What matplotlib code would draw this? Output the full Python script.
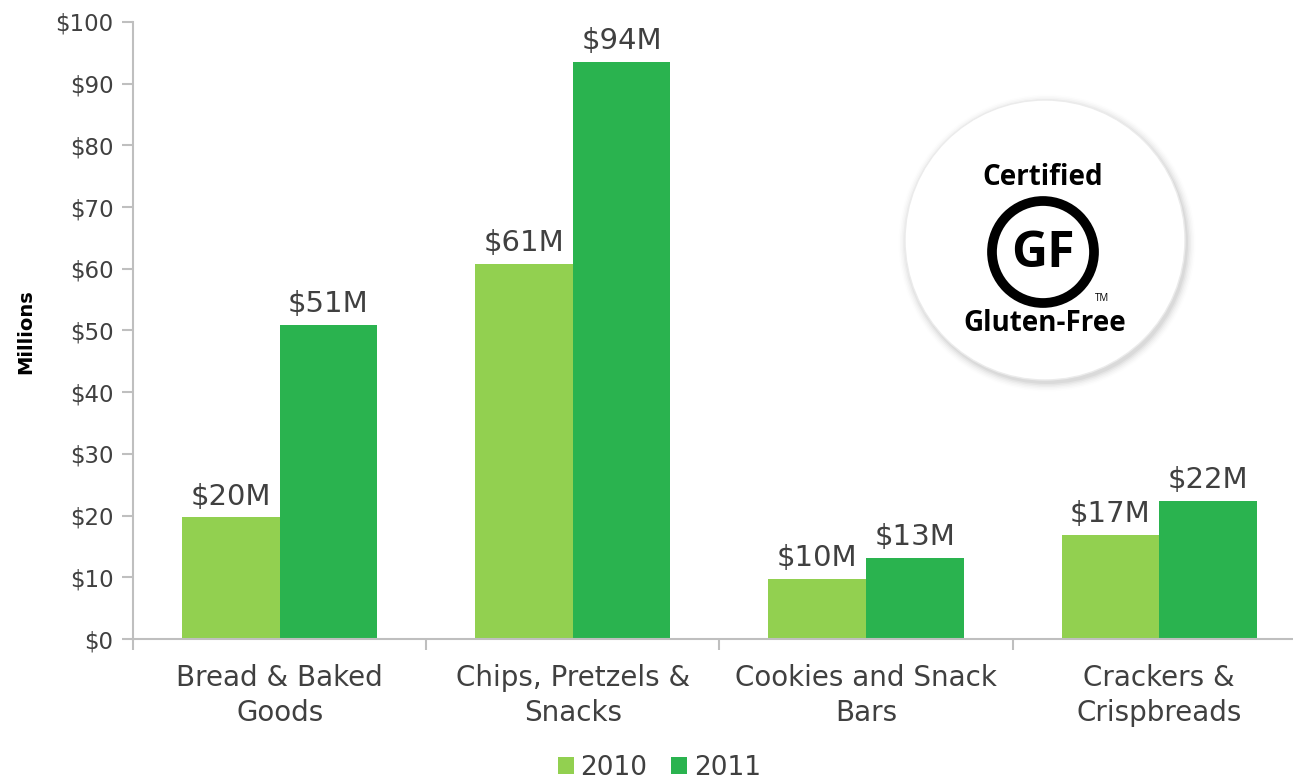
import matplotlib
matplotlib.use("Agg")
import matplotlib.pyplot as plt
from matplotlib.patches import Circle
import numpy as np

categories = ["Bread & Baked\nGoods", "Chips, Pretzels &\nSnacks",
              "Cookies and Snack\nBars", "Crackers &\nCrispbreads"]
sales_2010 = [19.7, 60.8, 9.7, 16.9]
sales_2011 = [50.9, 93.5, 13.1, 22.4]
labels_2010 = ["$20M", "$61M", "$10M", "$17M"]
labels_2011 = ["$51M", "$94M", "$13M", "$22M"]
yticks = [0, 10, 20, 30, 40, 50, 60, 70, 80, 90, 100]

c2010 = "#92D050"
c2011 = "#2AB34F"
grey = "#BFBFBF"
txt = "#404040"

plt.rcParams["font.family"] = ["DejaVu Sans"]

fig = plt.figure(figsize=(12.93, 7.79), dpi=100)
ax = fig.add_axes([0.1029, 0.1797, 0.907, 0.7921])

x = np.arange(len(categories))
w = 0.333
b1 = ax.bar(x - w / 2, sales_2010, w, color=c2010, label="2010")
b2 = ax.bar(x + w / 2, sales_2011, w, color=c2011, label="2011")

for bars, labs in ((b1, labels_2010), (b2, labels_2011)):
    for bar, lab in zip(bars, labs):
        ax.annotate(lab, (bar.get_x() + bar.get_width() / 2, bar.get_height()),
                    xytext=(0, 5), textcoords="offset points",
                    ha="center", va="bottom", fontsize=21, color=txt)

ax.set_xlim(-0.5, len(categories) - 0.5)
ax.set_ylim(0, 100)
ax.set_yticks(yticks)
ax.set_yticklabels(["$%d" % t for t in yticks], fontsize=16.5, color=txt)
ax.set_xticks(np.arange(len(categories) + 1) - 0.5)
ax.set_xticklabels([])
ax.set_xticks(x, minor=True)
ax.set_xticklabels(categories, minor=True, fontsize=20, color=txt,
                   linespacing=1.3)
ax.tick_params(axis="x", which="minor", length=0, pad=18)
ax.tick_params(axis="x", which="major", length=8, color=grey, width=1.5)
ax.tick_params(axis="y", length=8, color=grey, width=1.5, pad=6)

for s in ("top", "right"):
    ax.spines[s].set_visible(False)
for s in ("left", "bottom"):
    ax.spines[s].set_color(grey)
    ax.spines[s].set_linewidth(1.5)

fig.text(0.02, 0.574, "Millions", rotation=90, fontsize=14, fontweight="bold",
         ha="center", va="center", color="black")

fig.legend(handles=[b1, b2], loc="center", bbox_to_anchor=(0.51, 0.014),
           ncol=2, frameon=False, fontsize=19, handlelength=0.6,
           handleheight=0.6, handletextpad=0.25, columnspacing=0.9,
           labelcolor=txt)

# certified gluten-free logo, drawn in pixel coordinates
lg = fig.add_axes([0, 0, 1, 1])
lg.set_xlim(0, 1293)
lg.set_ylim(779, 0)
lg.axis("off")
cx, cy, r = 1045, 240, 140
for i, a in enumerate(np.linspace(0.04, 0.008, 6)):
    lg.add_patch(Circle((cx + 2, cy + 3), r + 1 + i * 1.5, color="black",
                        alpha=a, lw=0))
lg.add_patch(Circle((cx, cy), r, facecolor="white", edgecolor="#EBEBEB", lw=1))
lg.add_patch(Circle((1043, 252), 51, facecolor="none", edgecolor="black", lw=7))
lg.text(1043, 177, "Certified", fontsize=20, fontweight="bold",
        ha="center", va="center", family="Open Sans")
lg.text(1043, 254, "GF", fontsize=36, fontweight="bold",
        ha="center", va="center", family="Open Sans")
lg.text(1102, 298, "TM", fontsize=7, ha="center", va="center", family="Open Sans")
lg.text(1045, 323, "Gluten-Free", fontsize=20, fontweight="bold",
        ha="center", va="center", family="Open Sans")

fig.savefig("out.png", dpi=100)
